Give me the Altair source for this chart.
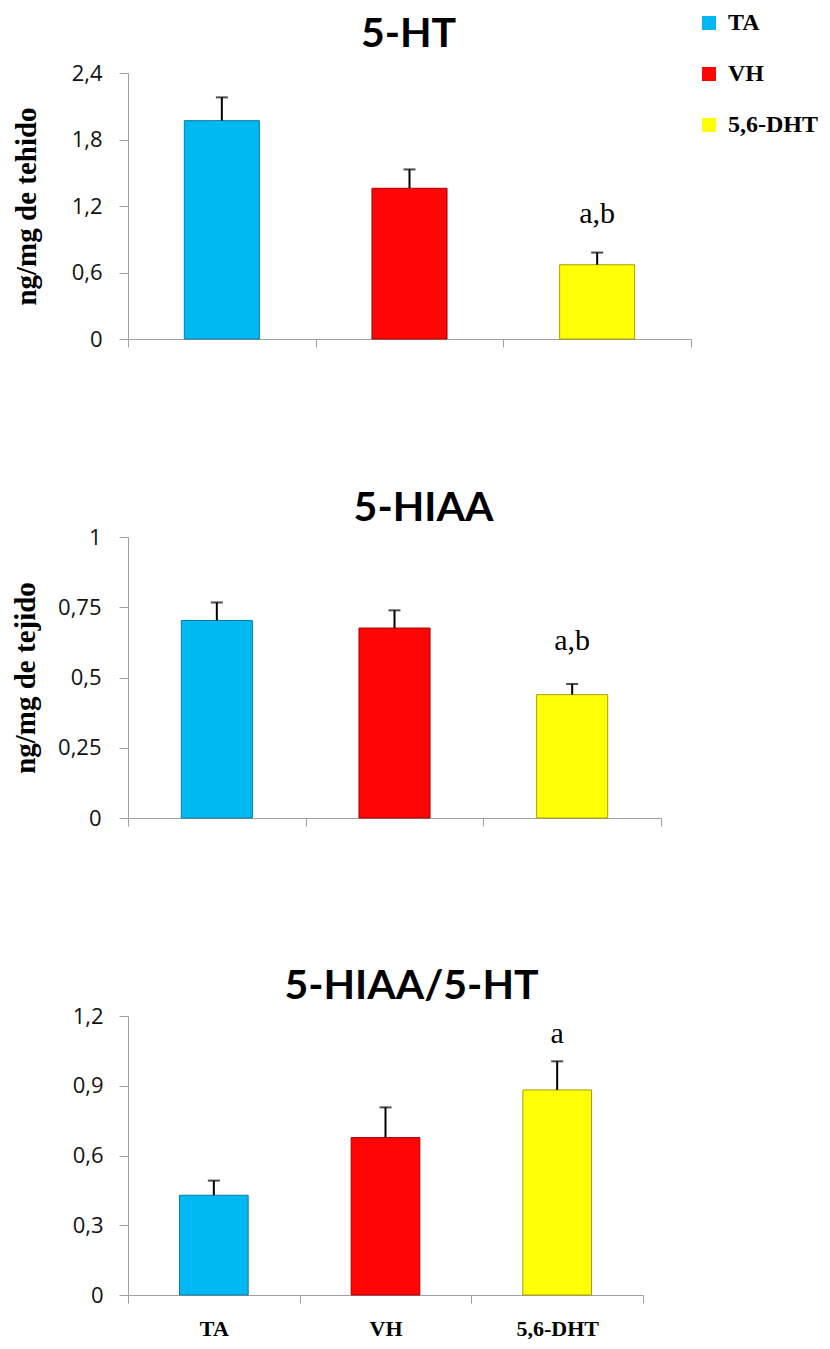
import altair as alt
import pandas as pd

groups = ["TA", "VH", "5,6-DHT"]
fill_colors = ["#00B9F2", "#FF0505", "#FFFF05"]
stroke_colors = ["#0A7CA6", "#A80000", "#A8A000"]

ht_mean = [1.97, 1.36, 0.67]
ht_se = [0.21, 0.17, 0.11]
ht_sig = ["", "", "a,b"]

hiaa_mean = [0.703, 0.676, 0.439]
hiaa_se = [0.064, 0.063, 0.038]
hiaa_sig = ["", "", "a,b"]

ratio_mean = [0.429, 0.677, 0.882]
ratio_se = [0.063, 0.130, 0.123]
ratio_sig = ["", "", "a"]

ht_ticks = [0, 0.6, 1.2, 1.8, 2.4]
hiaa_ticks = [0, 0.25, 0.5, 0.75, 1]
ratio_ticks = [0, 0.3, 0.6, 0.9, 1.2]

AXIS_GRAY = "#A0A0A0"

legend_all = alt.Legend(
    title=None, orient="none", legendX=569, legendY=-62, symbolType="square",
    symbolSize=196, symbolStrokeWidth=0, labelFont="Liberation Serif",
    labelFontSize=24, labelFontWeight="bold", labelColor="black",
    rowPadding=27, labelOffset=7, padding=0,
)


def panel(mean, se, sig, title, ytitle, ymax, yvals, w, h, show_x, sig_dy,
          title_dx, title_offset, label_pad, title_pad):
    df = pd.DataFrame({"group": groups, "mean": mean, "se": se, "sig": sig})
    base = alt.Chart(df).transform_calculate(top="datum.mean + datum.se")

    xaxis = alt.Axis(
        title=None, labels=show_x, labelAngle=0, tickBand="extent",
        domainColor=AXIS_GRAY, tickColor=AXIS_GRAY, tickSize=8,
        labelFont="Liberation Serif", labelFontSize=22, labelFontWeight="bold",
        labelColor="black", labelPadding=15,
    )
    x = alt.X("group:N", sort=groups,
              scale=alt.Scale(paddingInner=0, paddingOuter=0), axis=xaxis)

    yaxis = alt.Axis(
        values=yvals, grid=False, domainColor=AXIS_GRAY, tickColor=AXIS_GRAY,
        tickSize=9, labelFont="Open Sans", labelFontSize=22, labelColor="#111",
        labelPadding=label_pad,
        labelExpr="replace(toString(datum.value), '.', ',')",
        titleFont="Liberation Serif", titleFontSize=29, titleFontWeight="bold",
        titleColor="black", titlePadding=title_pad,
    )
    yscale = alt.Scale(domain=[0, ymax], nice=False, zero=True)

    def yenc(field):
        return alt.Y(field, scale=yscale, axis=yaxis, title=ytitle)

    bars = base.mark_bar(strokeWidth=1, width=alt.RelativeBandSize(0.4)).encode(
        x=x,
        y=yenc("mean:Q"),
        color=alt.Color("group:N", sort=groups,
                        scale=alt.Scale(domain=groups, range=fill_colors),
                        legend=legend_all),
        stroke=alt.Stroke("group:N", sort=groups,
                          scale=alt.Scale(domain=groups, range=stroke_colors),
                          legend=None),
    )
    rule = base.mark_rule(color="black", strokeWidth=2).encode(
        x=x, y=yenc("mean:Q"), y2="top:Q")
    cap = base.mark_tick(color="black", thickness=2, size=12).encode(
        x=x, y=yenc("top:Q"))
    text = base.transform_filter("datum.sig != ''").mark_text(
        font="Liberation Serif", fontSize=30, dy=sig_dy,
        baseline="middle", color="black").encode(
        x=x, y=yenc("top:Q"), text="sig:N")

    return alt.layer(bars, rule, cap, text).properties(
        width=w, height=h,
        title=alt.TitleParams(
            text=title, font="Lato", fontSize=41, fontWeight="bold",
            color="black", anchor="middle", dx=title_dx, offset=title_offset),
    )


c1 = panel(ht_mean, ht_se, ht_sig, "5-HT", "ng/mg de tehido", 2.4, ht_ticks,
           563, 266, False, -39, -1, 6, 17, 30)
c2 = panel(hiaa_mean, hiaa_se, hiaa_sig, "5-HIAA", "ng/mg de tejido", 1.0,
           hiaa_ticks, 533, 281, False, -43, 29, -4, 18, 17)
c3 = panel(ratio_mean, ratio_se, ratio_sig, "5-HIAA/5-HT", None, 1.2,
           ratio_ticks, 515, 279, True, -27, 26, -3, 16, 30)

chart = alt.vconcat(c1, c2, c3, spacing=198, bounds="flush").resolve_scale(
    stroke="independent"
).configure_view(stroke=None).properties(
    padding={"left": 3, "top": 3, "right": 0, "bottom": 0}
)

chart.save("out.html", embed_options={"renderer": "svg", "actions": False})
